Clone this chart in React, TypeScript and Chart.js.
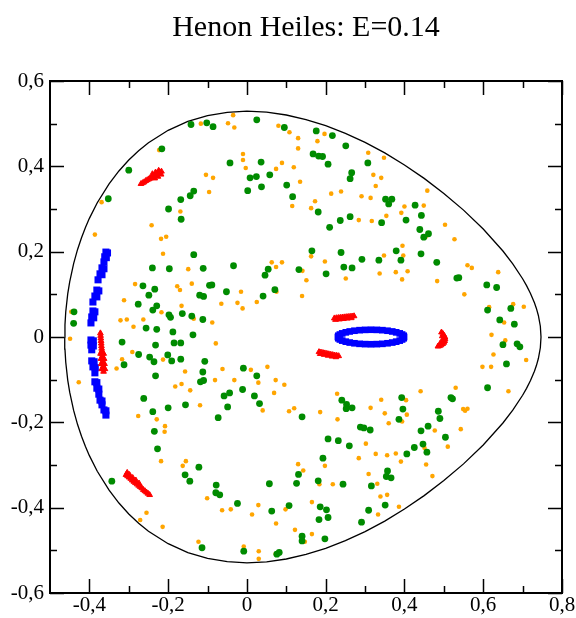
import React, { useEffect, useRef } from "react";
import { Chart, registerables } from "chart.js";

Chart.register(...registerables);

const TITLE = "Henon Heiles: E=0.14";
const X_TICKS = [-0.4, -0.2, 0, 0.2, 0.4, 0.6, 0.8];
const X_TICK_LABELS = ["-0,4", "-0,2", "0", "0,2", "0,4", "0,6", "0,8"];
const Y_TICKS = [-0.6, -0.4, -0.2, 0, 0.2, 0.4, 0.6];
const Y_TICK_LABELS = ["-0,6", "-0,4", "-0,2", "0", "0,2", "0,4", "0,6"];
const X_MINOR = [-0.3, -0.1, 0.1, 0.3, 0.5, 0.7];
const Y_MINOR = [-0.5, -0.3, -0.1, 0.1, 0.3, 0.5];

// energy boundary (upper half, left to right)
const BOUNDARY_UPPER: [number, number][] = [
  [-0.4626, 0], [-0.462, 0.0285], [-0.46, 0.0592], [-0.455, 0.1009], [-0.45, 0.1294],
  [-0.44, 0.1721], [-0.43, 0.2052], [-0.42, 0.2328], [-0.41, 0.2568], [-0.4, 0.2781],
  [-0.38, 0.3147], [-0.35, 0.3591], [-0.325, 0.3892], [-0.3, 0.4147], [-0.275, 0.4365],
  [-0.25, 0.4551], [-0.2, 0.4844], [-0.15, 0.5052], [-0.1, 0.519], [-0.05, 0.5267],
  [0, 0.5292], [0.05, 0.5269], [0.1, 0.5203], [0.15, 0.5097], [0.2, 0.4953],
  [0.25, 0.4774], [0.3, 0.4561], [0.35, 0.4314], [0.4, 0.4033], [0.45, 0.3718],
  [0.5, 0.3366], [0.55, 0.2974], [0.6, 0.253], [0.65, 0.2015], [0.675, 0.1715],
  [0.7, 0.1366], [0.71, 0.1204], [0.72, 0.1021], [0.73, 0.0803], [0.735, 0.067],
  [0.74, 0.0505], [0.745, 0.0253], [0.7467, 0],
];

const GREEN: [number, number][] = [
  [-0.142, 0.498], [-0.102, 0.502], [-0.086, 0.493], [0.025, 0.509], [0.095, 0.491], [-0.216, 0.441],
  [-0.3, 0.391], [-0.043, 0.408], [0.036, 0.41], [0.008, 0.373], [0.024, 0.376], [0.058, 0.38],
  [0.002, 0.343], [0.037, 0.352], [0.101, 0.356], [0.116, 0.329], [-0.352, 0.324], [-0.135, 0.342],
  [-0.144, 0.331], [-0.168, 0.322], [-0.199, 0.3], [-0.167, 0.276], [-0.135, 0.193],
  [0.176, 0.483], [0.217, 0.472], [0.251, 0.448], [0.168, 0.429], [0.182, 0.424], [0.192, 0.423],
  [0.206, 0.405], [0.307, 0.408], [0.266, 0.385], [0.262, 0.371], [0.352, 0.323], [0.368, 0.323],
  [0.36, 0.312], [0.427, 0.309], [0.181, 0.293], [0.443, 0.285], [0.262, 0.282], [0.237, 0.273],
  [0.21, 0.257], [0.342, 0.268], [0.404, 0.274], [0.439, 0.252], [0.461, 0.242], [0.449, 0.234],
  [0.165, 0.202], [0.239, 0.198], [0.379, 0.202], [0.442, 0.195], [0.292, 0.182], [0.335, 0.18],
  [-0.24, 0.162], [-0.197, 0.16], [-0.111, 0.161], [-0.034, 0.167], [0.054, 0.159], [0.046, 0.145],
  [0.132, 0.158], [-0.264, 0.12], [-0.234, 0.112], [-0.249, 0.098], [-0.095, 0.121], [-0.089, 0.122],
  [-0.052, 0.106], [-0.12, 0.098], [-0.11, 0.095], [0.071, 0.111], [0.041, 0.096], [-0.276, 0.077],
  [-0.229, 0.073], [-0.239, 0.063], [-0.198, 0.052], [-0.194, 0.046], [-0.164, 0.055], [-0.14, 0.049],
  [-0.112, 0.041], [-0.439, 0.059], [-0.44, 0.032], [-0.256, 0.021], [-0.229, 0.018], [-0.188, 0.012],
  [-0.137, 0.005], [-0.317, -0.012], [-0.232, -0.019], [-0.185, -0.014], [-0.168, -0.014], [-0.275, -0.041],
  [-0.247, -0.047], [-0.236, -0.058], [-0.201, -0.042], [-0.191, -0.056], [-0.168, -0.052], [-0.107, -0.057],
  [-0.312, -0.065], [-0.232, -0.091], [-0.112, -0.082], [-0.118, -0.105], [-0.11, -0.102], [-0.009, -0.073],
  [0.025, -0.091], [-0.011, -0.123], [-0.044, -0.131], [-0.058, -0.138], [0.019, -0.138], [0.032, -0.156],
  [-0.262, -0.144], [-0.156, -0.159], [-0.2, -0.166], [-0.049, -0.164], [-0.239, -0.175], [-0.073, -0.189],
  [0.14, -0.187],
  [0.391, 0.18], [0.482, 0.175], [0.246, 0.164], [0.267, 0.162], [0.201, 0.148], [0.533, 0.138],
  [0.538, 0.139], [0.609, 0.122], [0.634, 0.116], [0.611, 0.063], [0.67, 0.067], [0.642, 0.04],
  [0.679, 0.03], [0.65, -0.018], [0.686, -0.016], [0.693, -0.023], [0.659, -0.063], [0.611, -0.119],
  [0.518, -0.142], [0.522, -0.145], [0.241, -0.148], [0.253, -0.158], [0.267, -0.166], [0.252, -0.168],
  [0.393, -0.142], [0.396, -0.169], [0.486, -0.174], [0.49, -0.191], [0.386, -0.193],
  [-0.227, -0.262], [-0.122, -0.305], [-0.157, -0.323], [-0.145, -0.338], [-0.343, -0.338], [-0.078, -0.347],
  [-0.079, -0.365], [-0.069, -0.37], [-0.024, -0.39], [0.057, -0.344], [0.131, -0.322], [0.126, -0.343],
  [0.107, -0.395], [0.063, -0.408], [0.14, -0.467], [0.14, -0.478], [-0.114, -0.494], [-0.008, -0.502],
  [0.082, -0.505], [0.076, -0.509], [-0.235, -0.221],
  [0.288, -0.211], [0.297, -0.213], [0.313, -0.218], [0.442, -0.22], [0.46, -0.209], [0.504, -0.235],
  [0.206, -0.239], [0.232, -0.243], [0.26, -0.255], [0.425, -0.259], [0.447, -0.251], [0.457, -0.27],
  [0.406, -0.274], [0.193, -0.284], [0.181, -0.337], [0.244, -0.345], [0.316, -0.349], [0.357, -0.314],
  [0.354, -0.327], [0.366, -0.33], [0.186, -0.398], [0.202, -0.405], [0.183, -0.428], [0.206, -0.423],
  [0.351, -0.394], [0.309, -0.406], [0.291, -0.434], [0.198, -0.473],
];

const ORANGE: [number, number][] = [
  [-0.035, 0.52], [-0.117, 0.5], [-0.048, 0.501], [-0.032, 0.491], [0.08, 0.495], [0.108, 0.48],
  [0.13, 0.466], [0.13, 0.442], [-0.223, 0.438], [-0.01, 0.429], [-0.01, 0.415], [-0.003, 0.396],
  [0.089, 0.408], [0.074, 0.394], [0.119, 0.398], [0.135, 0.364], [-0.104, 0.38], [-0.086, 0.373],
  [-0.096, 0.34], [0.115, 0.307], [-0.369, 0.316], [-0.169, 0.294], [-0.242, 0.262], [-0.205, 0.235],
  [-0.218, 0.23], [-0.386, 0.24], [-0.213, 0.195],
  [0.197, 0.476], [0.179, 0.459], [0.308, 0.432], [0.348, 0.42], [0.321, 0.38], [0.341, 0.373],
  [0.327, 0.354], [0.239, 0.341], [0.214, 0.336], [0.291, 0.33], [0.314, 0.326], [0.458, 0.343],
  [0.173, 0.318], [0.163, 0.302], [0.4, 0.306], [0.449, 0.308], [0.392, 0.291], [0.354, 0.284],
  [0.284, 0.274], [0.317, 0.272], [0.503, 0.263], [0.527, 0.229], [0.454, 0.235], [0.395, 0.214],
  [0.163, 0.189], [0.348, 0.191], [0.397, 0.191],
  [0.063, 0.175], [0.074, 0.164], [0.089, 0.175], [-0.149, 0.159], [0.141, 0.155], [-0.284, 0.124],
  [-0.177, 0.119], [-0.17, 0.11], [-0.14, 0.125], [-0.015, 0.106], [0.075, 0.106], [0.14, 0.096],
  [-0.312, 0.086], [-0.166, 0.073], [-0.065, 0.078], [-0.024, 0.08], [-0.011, 0.067], [0.025, 0.082],
  [-0.446, 0.059], [-0.217, 0.058], [-0.321, 0.039], [-0.305, 0.041], [-0.263, 0.041], [-0.135, 0.043],
  [-0.088, 0.034], [-0.288, 0.024], [-0.449, -0.004], [-0.079, -0.015], [-0.291, -0.035], [-0.317, -0.052],
  [-0.213, -0.053], [-0.331, -0.074], [-0.157, -0.081], [-0.062, -0.075], [0.01, -0.077], [0.052, -0.07],
  [-0.427, -0.106], [-0.182, -0.116], [-0.166, -0.11], [-0.144, -0.125], [-0.081, -0.101], [-0.032, -0.101],
  [0.029, -0.107], [0.073, -0.101], [0.095, -0.112], [0.069, -0.131], [-0.119, -0.16], [0.04, -0.172],
  [0.107, -0.174], [0.12, -0.167], [-0.276, -0.185], [-0.229, -0.193],
  [0.198, 0.177], [0.151, 0.133], [0.251, 0.137], [0.337, 0.149], [0.378, 0.152], [0.408, 0.154],
  [0.394, 0.135], [0.483, 0.131], [0.56, 0.168], [0.571, 0.162], [0.638, 0.152], [0.552, 0.1],
  [0.615, 0.07], [0.676, 0.077], [0.703, 0.071], [0.653, 0.034], [0.621, 0.005], [0.656, -0.008],
  [0.689, -0.019], [0.626, -0.041], [0.598, -0.07], [0.62, -0.07], [0.709, -0.054], [0.441, -0.127],
  [0.53, -0.119], [0.664, -0.127], [0.229, -0.133], [0.341, -0.147], [0.404, -0.148], [0.314, -0.166],
  [0.186, -0.176], [0.35, -0.179], [0.406, -0.182], [0.549, -0.169], [0.56, -0.168], [0.554, -0.173],
  [0.23, -0.193],
  [-0.208, -0.209], [-0.209, -0.222], [-0.237, -0.222], [-0.218, -0.291], [-0.155, -0.291], [-0.163, -0.302],
  [-0.101, -0.378], [-0.063, -0.406], [-0.041, -0.404], [0.013, -0.416], [0.029, -0.394], [0.074, -0.437],
  [0.098, -0.404], [0.122, -0.452], [0.13, -0.298], [0.143, -0.313], [-0.255, -0.412], [-0.271, -0.429],
  [-0.214, -0.445], [-0.123, -0.48], [-0.008, -0.491], [0.03, -0.502], [0.03, -0.52], [0.073, -0.508],
  [0.147, -0.48],
  [0.36, -0.202], [0.394, -0.198], [0.477, -0.219], [0.543, -0.216], [0.51, -0.257], [0.302, -0.25],
  [0.327, -0.274], [0.356, -0.277], [0.378, -0.273], [0.391, -0.292], [0.451, -0.26], [0.455, -0.299],
  [0.471, -0.326], [0.284, -0.284], [0.198, -0.302], [0.184, -0.345], [0.218, -0.345], [0.309, -0.321],
  [0.331, -0.344], [0.339, -0.374], [0.356, -0.37], [0.386, -0.398], [0.333, -0.416], [0.165, -0.387],
  [0.165, -0.462],
];

const BLUE_ARC: [number, number][] = [
  [-0.358, 0.199], [-0.361, 0.188], [-0.363, 0.176], [-0.354, 0.197], [-0.357, 0.186],
  [-0.368, 0.162], [-0.373, 0.148], [-0.378, 0.134], [-0.363, 0.16], [-0.368, 0.146],
  [-0.381, 0.11], [-0.386, 0.096], [-0.391, 0.082], [-0.376, 0.108], [-0.381, 0.094],
  [-0.391, 0.061], [-0.394, 0.047], [-0.396, 0.033], [-0.386, 0.059], [-0.389, 0.045],
  [-0.396, -0.007], [-0.396, -0.019], [-0.394, -0.03], [-0.39, -0.009], [-0.39, -0.021],
  [-0.394, -0.056], [-0.391, -0.07], [-0.386, -0.084], [-0.388, -0.058], [-0.385, -0.072],
  [-0.386, -0.105], [-0.381, -0.12], [-0.376, -0.134], [-0.381, -0.107], [-0.376, -0.122],
  [-0.373, -0.148], [-0.368, -0.159], [-0.368, -0.15],
  [-0.363, -0.171], [-0.358, -0.183], [-0.358, -0.173],
];

const BLUE_RING: [number, number][] = [
  [0.399, 0], [0.398, 0.003], [0.394, 0.0058], [0.388, 0.0085], [0.379, 0.0109], [0.369, 0.013],
  [0.357, 0.0147], [0.344, 0.016], [0.33, 0.0167], [0.315, 0.017], [0.3, 0.0167], [0.286, 0.016],
  [0.273, 0.0147], [0.261, 0.013], [0.251, 0.0109], [0.242, 0.0085], [0.236, 0.0058], [0.232, 0.003],
  [0.231, 0], [0.232, -0.003], [0.236, -0.0058], [0.242, -0.0085], [0.251, -0.0109], [0.261, -0.013],
  [0.273, -0.0147], [0.286, -0.016], [0.3, -0.0167], [0.315, -0.017], [0.33, -0.0167], [0.344, -0.016],
  [0.357, -0.0147], [0.369, -0.013], [0.379, -0.0109], [0.388, -0.0085], [0.394, -0.0058], [0.398, -0.003],
];

const RED: [number, number][] = [
  // upper-left island
  [-0.269, 0.359], [-0.265, 0.361], [-0.261, 0.363], [-0.257, 0.366], [-0.253, 0.368], [-0.249, 0.37],
  [-0.245, 0.372], [-0.241, 0.375], [-0.237, 0.377], [-0.233, 0.379], [-0.229, 0.381], [-0.225, 0.384],
  [-0.221, 0.386], [-0.217, 0.388], [-0.234, 0.372], [-0.226, 0.376], [-0.218, 0.381],
  [-0.24, 0.382], [-0.232, 0.386], [-0.224, 0.39],
  // lower-left island
  [-0.307, -0.323], [-0.303, -0.326], [-0.299, -0.329], [-0.295, -0.332], [-0.291, -0.336], [-0.287, -0.339],
  [-0.283, -0.342], [-0.279, -0.345], [-0.275, -0.348], [-0.271, -0.351], [-0.267, -0.354], [-0.263, -0.358],
  [-0.259, -0.361], [-0.255, -0.364], [-0.251, -0.367], [-0.247, -0.37],
  [-0.304, -0.318], [-0.298, -0.323], [-0.29, -0.33], [-0.282, -0.336], [-0.274, -0.343],
  // left vertical island
  [-0.372, 0.009], [-0.3715, 0.003], [-0.371, -0.003], [-0.3704, -0.009], [-0.3699, -0.015], [-0.3693, -0.021],
  [-0.3688, -0.027], [-0.3683, -0.033], [-0.3677, -0.039], [-0.3672, -0.045], [-0.3667, -0.051], [-0.3661, -0.057],
  [-0.3656, -0.063], [-0.3651, -0.069], [-0.3645, -0.075], [-0.364, -0.081],
  [-0.3717, -0.039], [-0.3637, -0.039], [-0.3707, -0.051], [-0.3627, -0.051],
  [-0.3696, -0.063], [-0.3616, -0.063], [-0.3685, -0.075], [-0.3605, -0.075],
  // right upper small island
  [0.222, 0.044], [0.227, 0.0445], [0.232, 0.045], [0.237, 0.0455], [0.242, 0.046], [0.247, 0.0465],
  [0.252, 0.047], [0.257, 0.0475], [0.262, 0.048], [0.267, 0.0485], [0.272, 0.049],
  [0.225, 0.0405], [0.235, 0.0415], [0.245, 0.0425], [0.255, 0.0435], [0.265, 0.0445],
  // right lower small island
  [0.183, -0.035], [0.188, -0.036], [0.193, -0.037], [0.198, -0.038], [0.203, -0.039], [0.208, -0.04],
  [0.213, -0.041], [0.218, -0.042], [0.223, -0.043], [0.228, -0.0435], [0.233, -0.0445],
  [0.186, -0.0395], [0.196, -0.0415], [0.206, -0.0435], [0.216, -0.0455], [0.226, -0.047],
  // right island
  [0.494, 0.011], [0.498, 0.007], [0.501, 0.003], [0.503, -0.001], [0.503, -0.005], [0.502, -0.009],
  [0.5, -0.013], [0.497, -0.016], [0.493, -0.019], [0.489, -0.021], [0.485, -0.022],
  [0.496, 0.002], [0.497, -0.006], [0.495, -0.012], [0.49, -0.016],
];

const toXY = (arr: [number, number][]) => arr.map(([x, y]) => ({ x, y }));

const FONT_FAMILY = "'Liberation Serif', 'Times New Roman', serif";

const framePlugin = {
  id: "frameTicks",
  afterDraw(chart: any) {
    const { ctx, chartArea } = chart;
    const { left, right, top, bottom } = chartArea;
    const xs = chart.scales.x;
    const ys = chart.scales.y;
    ctx.save();
    ctx.strokeStyle = "#000";
    ctx.lineWidth = 1.5;
    ctx.beginPath();
    const major = 14;
    const minor = 7;
    const xt = (vals: number[], len: number) => {
      vals.forEach((v) => {
        const p = Math.round(xs.getPixelForValue(v)) + 0.5;
        ctx.moveTo(p, bottom);
        ctx.lineTo(p, bottom - len);
        ctx.moveTo(p, top);
        ctx.lineTo(p, top + len);
      });
    };
    const yt = (vals: number[], len: number) => {
      vals.forEach((v) => {
        const p = Math.round(ys.getPixelForValue(v)) + 0.5;
        ctx.moveTo(left, p);
        ctx.lineTo(left + len, p);
        ctx.moveTo(right, p);
        ctx.lineTo(right - len, p);
      });
    };
    xt(X_TICKS, major);
    xt(X_MINOR, minor);
    yt(Y_TICKS, major);
    yt(Y_MINOR, minor);
    ctx.stroke();
    ctx.lineWidth = 2;
    ctx.strokeRect(left, top, right - left, bottom - top);
    ctx.restore();
  },
};

export default function App() {
  const ref = useRef<HTMLCanvasElement>(null);
  useEffect(() => {
    const canvas = ref.current;
    if (!canvas) return;
    const boundary = [
      ...BOUNDARY_UPPER,
      ...BOUNDARY_UPPER.slice(0, -1).reverse().map(([x, y]) => [x, -y] as [number, number]),
    ];
    const chart = new Chart(canvas, {
      type: "scatter",
      data: {
        datasets: [
          {
            label: "red",
            data: toXY(RED),
            pointStyle: "triangle",
            pointRadius: 3.3,
            backgroundColor: "rgb(255,0,0)",
            borderColor: "rgb(255,0,0)",
            pointBorderWidth: 1,
          },
          {
            label: "blue arc",
            data: toXY(BLUE_ARC),
            pointStyle: "rect",
            pointRadius: 5,
            backgroundColor: "rgb(0,0,255)",
            borderColor: "rgb(0,0,255)",
            pointBorderWidth: 0,
          },
          {
            label: "blue ring",
            data: toXY(BLUE_RING),
            pointStyle: "rect",
            pointRadius: 4.7,
            backgroundColor: "rgb(0,0,255)",
            borderColor: "rgb(0,0,255)",
            pointBorderWidth: 0,
          },
          {
            label: "green",
            data: toXY(GREEN),
            pointStyle: "circle",
            pointRadius: 3.4,
            backgroundColor: "rgb(0,139,0)",
            borderColor: "rgb(0,139,0)",
            pointBorderWidth: 0,
          },
          {
            label: "orange",
            data: toXY(ORANGE),
            pointStyle: "circle",
            pointRadius: 2.3,
            backgroundColor: "rgb(255,165,0)",
            borderColor: "rgb(255,165,0)",
            pointBorderWidth: 0,
          },
          {
            label: "boundary",
            data: toXY(boundary),
            showLine: true,
            pointRadius: 0,
            borderColor: "#000",
            borderWidth: 1.3,
            tension: 0,
            fill: false,
          },
        ],
      },
      options: {
        responsive: false,
        animation: false,
        devicePixelRatio: 1,
        layout: { padding: { left: 0, right: 14, top: 0, bottom: 0 } },
        plugins: {
          legend: { display: false },
          tooltip: { enabled: false },
          title: {
            display: true,
            text: TITLE,
            fullSize: false,
            color: "#000",
            font: { family: FONT_FAMILY, size: 30, weight: "normal", lineHeight: 1.2 },
            padding: { top: 10, bottom: 35 },
          },
        },
        scales: {
          x: {
            type: "linear",
            min: -0.5,
            max: 0.8,
            grid: { display: false, drawTicks: false },
            border: { display: false },
            afterBuildTicks: (s: any) => {
              s.ticks = X_TICKS.map((v) => ({ value: v }));
            },
            afterFit: (s: any) => {
              s.height = 25;
            },
            ticks: {
              autoSkip: false,
              maxRotation: 0,
              padding: 0,
              color: "#000",
              font: { family: FONT_FAMILY, size: 21 },
              callback: (v: any) => {
                const i = X_TICKS.findIndex((t) => Math.abs(t - Number(v)) < 1e-9);
                return i >= 0 ? X_TICK_LABELS[i] : "";
              },
            },
          },
          y: {
            type: "linear",
            min: -0.6,
            max: 0.6,
            grid: { display: false, drawTicks: false },
            border: { display: false },
            afterBuildTicks: (s: any) => {
              s.ticks = Y_TICKS.map((v) => ({ value: v }));
            },
            afterFit: (s: any) => {
              s.width = 50;
            },
            ticks: {
              autoSkip: false,
              padding: 6,
              color: "#000",
              font: { family: FONT_FAMILY, size: 21 },
              callback: (v: any) => {
                const i = Y_TICKS.findIndex((t) => Math.abs(t - Number(v)) < 1e-9);
                return i >= 0 ? Y_TICK_LABELS[i] : "";
              },
            },
          },
        },
      },
      plugins: [framePlugin],
    } as any);
    return () => chart.destroy();
  }, []);
  return (
    <div style={{ position: "fixed", left: 0, top: 0, width: 576, height: 618, background: "#fff" }}>
      <canvas ref={ref} width={576} height={618} style={{ width: 576, height: 618, display: "block" }} />
    </div>
  );
}
